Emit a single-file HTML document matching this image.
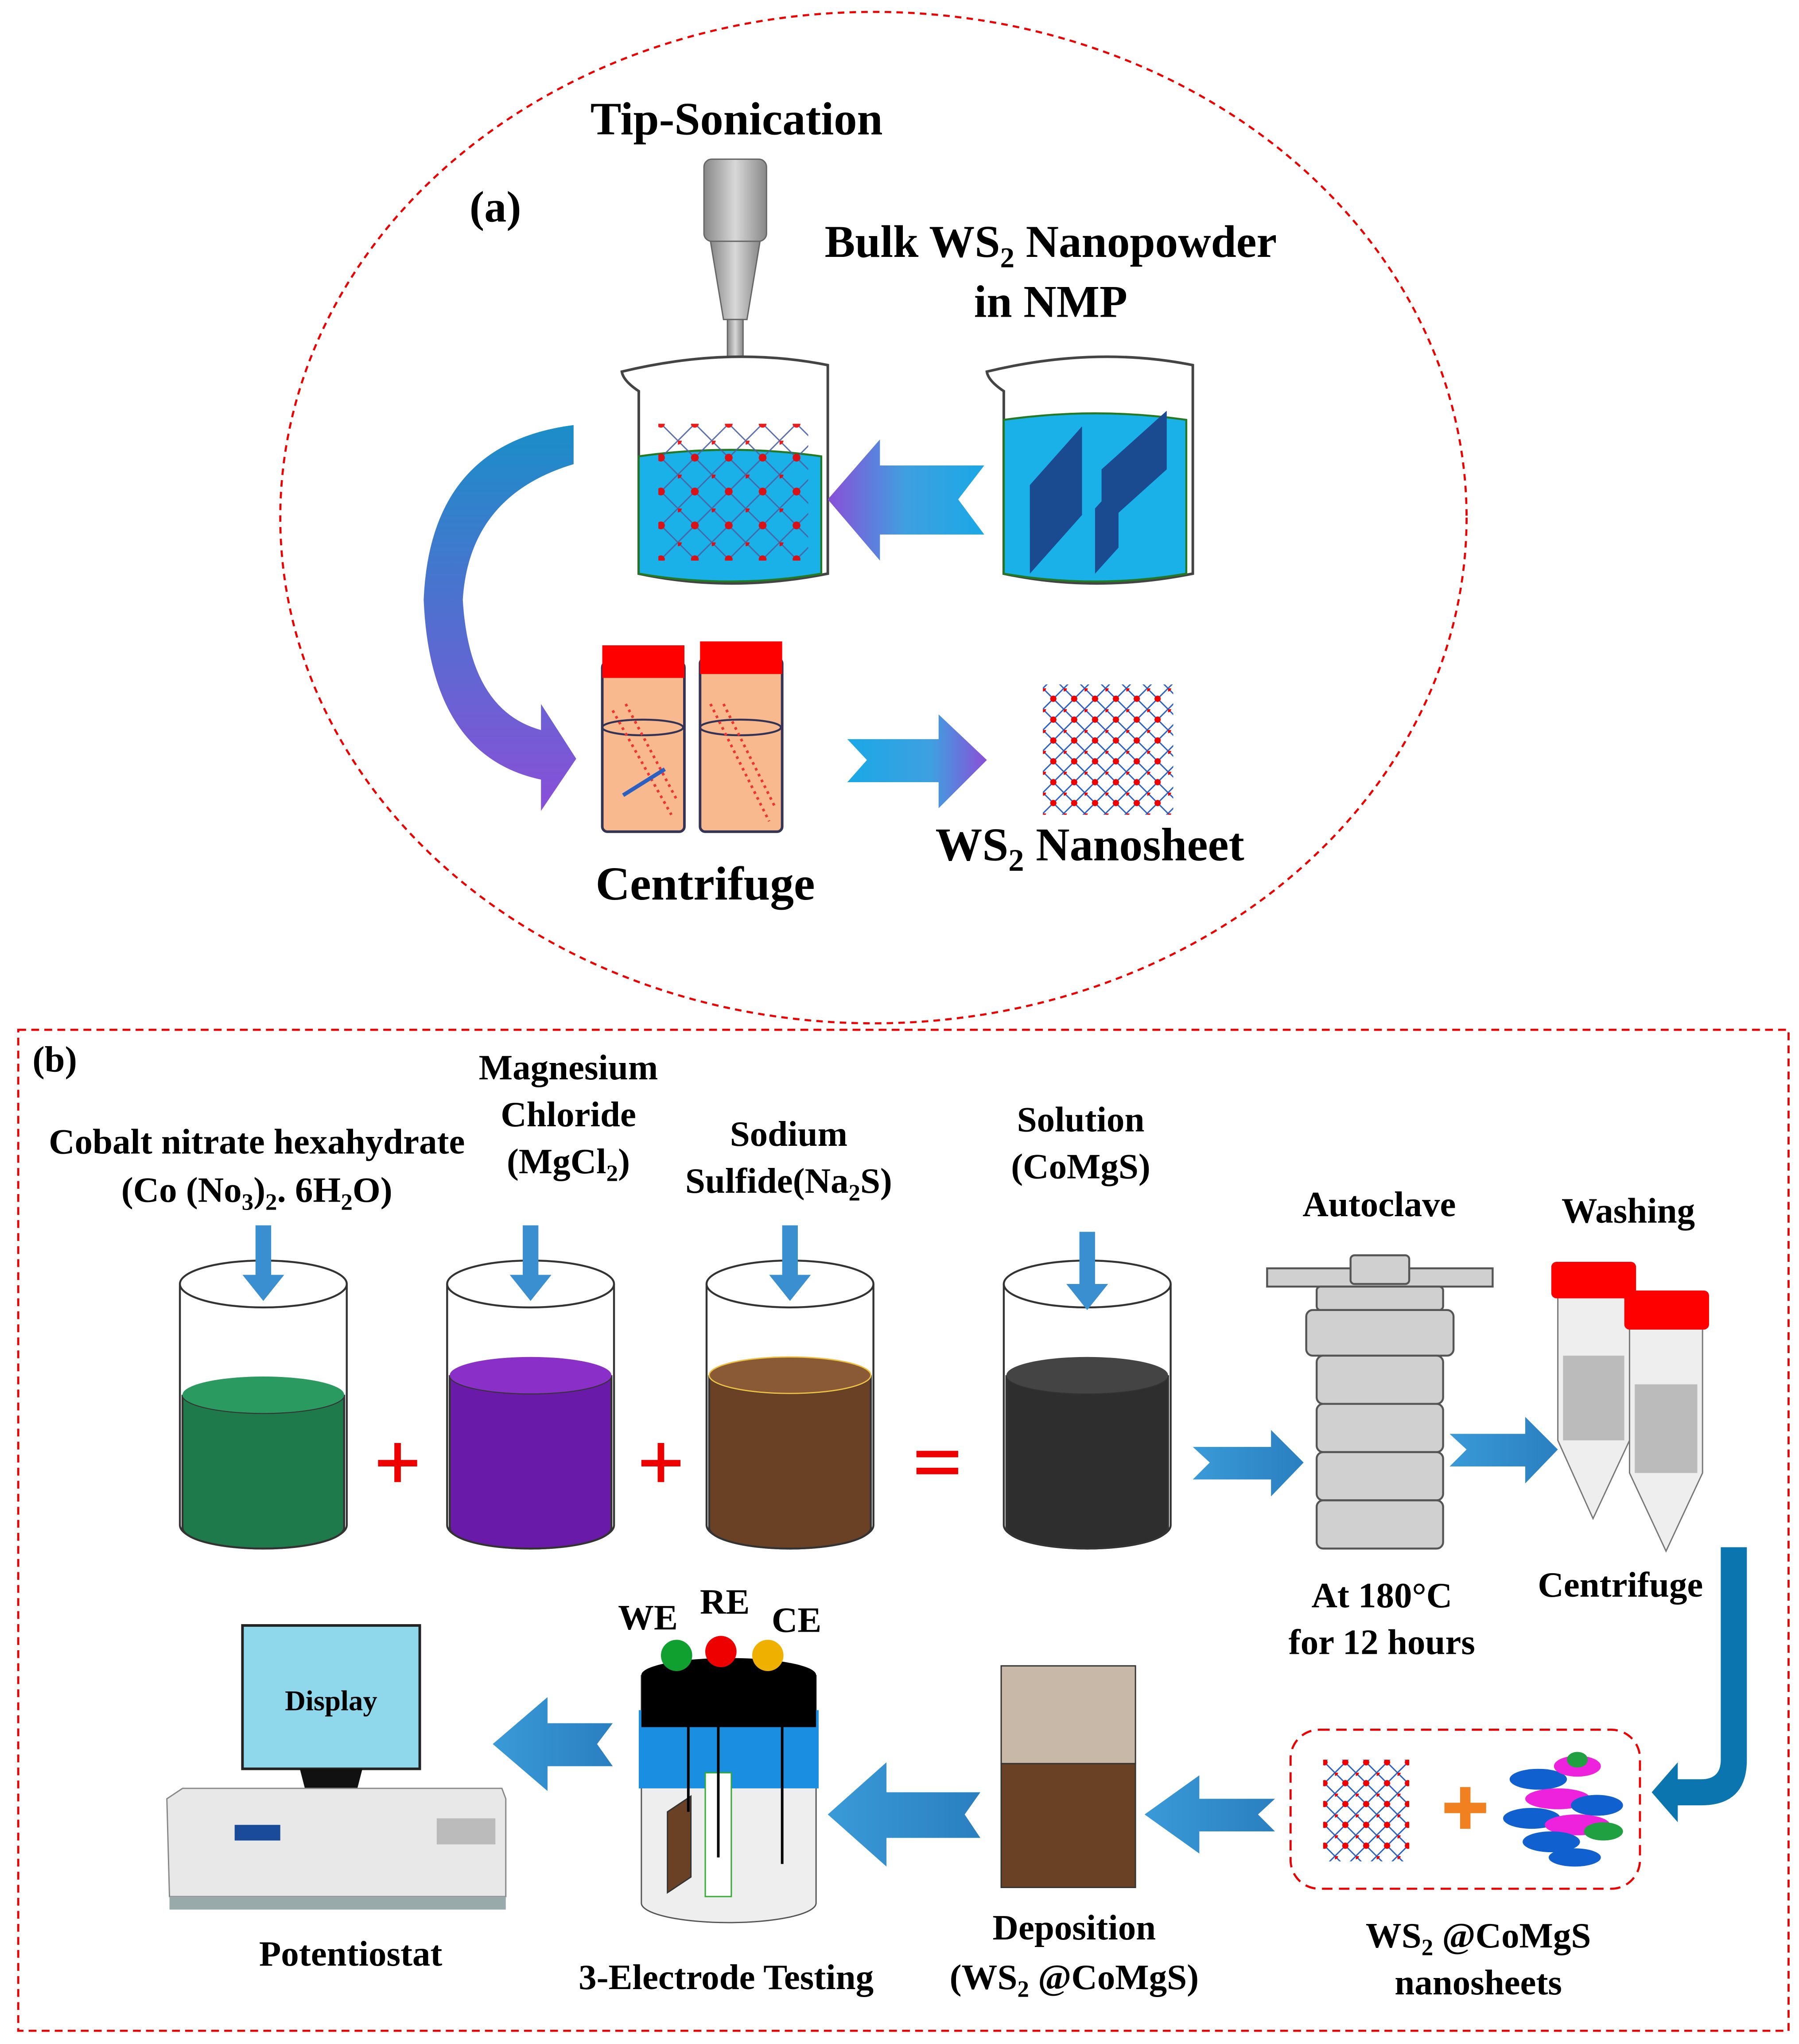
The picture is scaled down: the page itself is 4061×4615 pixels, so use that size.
<!DOCTYPE html>
<html><head><meta charset="utf-8"><style>
html,body{margin:0;padding:0;background:#fff}
svg{display:block}
text{font-family:"Liberation Serif",serif;font-weight:bold;fill:#000}
</style></head><body>
<svg width="4061" height="4615" viewBox="0 0 1380 1568" xmlns="http://www.w3.org/2000/svg">
<defs>
<linearGradient id="bp" x1="0" x2="1"><stop offset="0" stop-color="#8a4fd8"/><stop offset="0.5" stop-color="#3fa0e0"/><stop offset="1" stop-color="#1aa8e6"/></linearGradient>
<linearGradient id="bp2" x1="0" x2="1"><stop offset="0" stop-color="#1aa8e6"/><stop offset="0.6" stop-color="#3fa0e0"/><stop offset="1" stop-color="#8a4fd8"/></linearGradient>
<linearGradient id="cv" x1="0" y1="0" x2="0" y2="1"><stop offset="0" stop-color="#1a8ec8"/><stop offset="1" stop-color="#8a4fd8"/></linearGradient>
<linearGradient id="ba" x1="0" x2="1"><stop offset="0" stop-color="#3a9ad8"/><stop offset="1" stop-color="#2a7fc0"/></linearGradient>
<linearGradient id="gr" x1="0" x2="1"><stop offset="0" stop-color="#888"/><stop offset="0.5" stop-color="#d8d8d8"/><stop offset="1" stop-color="#888"/></linearGradient>
<pattern id="net" width="16" height="16" patternUnits="userSpaceOnUse"><path d="M0 0L16 16M16 0L0 16" stroke="#2a60c0" stroke-width="1"/><circle cx="0" cy="0" r="2.4" fill="#e00"/><circle cx="8" cy="8" r="2.4" fill="#e00"/></pattern>
<pattern id="net2" width="26" height="26" patternUnits="userSpaceOnUse"><path d="M0 0L26 26M26 0L0 26" stroke="#4a60a0" stroke-width="1"/><circle cx="0" cy="0" r="3" fill="#e00"/><circle cx="13" cy="13" r="3" fill="#e00"/></pattern>
</defs>

<ellipse cx="670" cy="397" rx="455" ry="388" fill="none" stroke="#e00" stroke-width="1.6" stroke-dasharray="5,4"/>
<text x="565" y="103" font-size="35.5" text-anchor="middle">Tip-Sonication</text>
<text x="380" y="170" font-size="34" text-anchor="middle">(a)</text>
<text x="806" y="197" font-size="35" text-anchor="middle">Bulk WS<tspan font-size="22" dy="8">2</tspan><tspan dy="-8"> Nanopowder</tspan></text>
<text x="806" y="243" font-size="35" text-anchor="middle">in NMP</text>
<rect x="540" y="122" width="48" height="63" rx="6" fill="url(#gr)" stroke="#666"/>
<path d="M545 185H583L573 245H555Z" fill="url(#gr)" stroke="#666"/>
<rect x="558" y="245" width="12" height="90" fill="url(#gr)" stroke="#666"/>
<path d="M490 300Q478 292 477 285Q560 265 635 280V440Q560 455 490 440Z" fill="#fff" stroke="#444" stroke-width="2"/>
<path d="M490 350Q560 340 630 350V440Q560 452 490 440Z" fill="#1ab0e8" stroke="#247a24" stroke-width="1.5"/>
<rect x="505" y="325" width="115" height="105" fill="url(#net2)" opacity="0.9"/>
<path d="M770 300Q758 292 757 285Q840 265 915 280V440Q840 455 770 440Z" fill="#fff" stroke="#444" stroke-width="2"/>
<path d="M770 322Q840 312 910 322V440Q840 452 770 440Z" fill="#1ab0e8" stroke="#247a24" stroke-width="1.5"/>
<path d="M790 440L790 372L830 327L830 395Z" fill="#1a4a90"/>
<path d="M845 405L845 360L895 315L895 360Z" fill="#1a4a90"/>
<path d="M840 440L840 390L858 370L858 420Z" fill="#1a4a90"/>
<path d="M755 357L735 383L755 410H675V430L635 383L675 337V357Z" fill="url(#bp)"/>
<path d="M440 326V356Q360 380 355 460Q360 545 415 560V540L442 582L415 622V598Q330 580 325 460Q330 340 440 326Z" fill="url(#cv)"/>
<rect x="462" y="508" width="63" height="130" rx="4" fill="#f9b98e" stroke="#335" stroke-width="2"/>
<rect x="462" y="495" width="63" height="25" fill="#f00"/>
<rect x="537" y="505" width="63" height="133" rx="4" fill="#f9b98e" stroke="#335" stroke-width="2"/>
<rect x="537" y="492" width="63" height="25" fill="#f00"/>
<ellipse cx="493" cy="558" rx="31" ry="6" fill="none" stroke="#335" stroke-width="1.5"/>
<ellipse cx="568" cy="558" rx="31" ry="6" fill="none" stroke="#335" stroke-width="1.5"/>
<path d="M470 545L515 625M480 540L520 615M545 540L590 630M555 540L595 620" stroke="#e33" stroke-width="2" stroke-dasharray="2,3"/>
<path d="M478 610L510 590" stroke="#2a60c0" stroke-width="3"/>
<path d="M650 567H720V548L757 583L720 620V600H650L665 583Z" fill="url(#bp2)"/>
<rect x="800" y="525" width="100" height="100" fill="url(#net)"/>
<text x="541" y="690" font-size="36.5" text-anchor="middle">Centrifuge</text>
<text x="836" y="660" font-size="36" text-anchor="middle">WS<tspan font-size="24" dy="8">2</tspan><tspan dy="-8"> Nanosheet</tspan></text>

<rect x="14" y="790" width="1358" height="768" fill="none" stroke="#e00" stroke-width="1.6" stroke-dasharray="6,4"/>
<text x="42" y="822" font-size="28" text-anchor="middle">(b)</text>
<g font-size="27.5">
<text x="197" y="885" text-anchor="middle">Cobalt nitrate hexahydrate</text>
<text x="197" y="922" text-anchor="middle">(Co (No<tspan font-size="18" dy="6">3</tspan><tspan dy="-6">)</tspan><tspan font-size="18" dy="6">2</tspan><tspan dy="-6">. 6H</tspan><tspan font-size="18" dy="6">2</tspan><tspan dy="-6">O)</tspan></text>
<text x="436" y="828" text-anchor="middle">Magnesium</text>
<text x="436" y="864" text-anchor="middle">Chloride</text>
<text x="436" y="900" text-anchor="middle">(MgCl<tspan font-size="18" dy="6">2</tspan><tspan dy="-6">)</tspan></text>
<text x="605" y="879" text-anchor="middle">Sodium</text>
<text x="605" y="915" text-anchor="middle">Sulfide(Na<tspan font-size="18" dy="6">2</tspan><tspan dy="-6">S)</tspan></text>
<text x="829" y="868" text-anchor="middle">Solution</text>
<text x="829" y="904" text-anchor="middle">(CoMgS)</text>
<text x="1058" y="933" text-anchor="middle">Autoclave</text>
<text x="1249" y="938" text-anchor="middle">Washing</text>
<text x="1060" y="1233" text-anchor="middle">At 180°C</text>
<text x="1060" y="1269" text-anchor="middle">for 12 hours</text>
<text x="1243" y="1225" text-anchor="middle">Centrifuge</text>
<text x="497" y="1250" text-anchor="middle">WE</text>
<text x="556" y="1238" text-anchor="middle">RE</text>
<text x="611" y="1252" text-anchor="middle">CE</text>
<text x="269" y="1508" text-anchor="middle">Potentiostat</text>
<text x="557" y="1526" text-anchor="middle">3-Electrode Testing</text>
<text x="824" y="1488" text-anchor="middle">Deposition</text>
<text x="824" y="1526" text-anchor="middle">(WS<tspan font-size="18" dy="6">2</tspan><tspan dy="-6"> @CoMgS)</tspan></text>
<text x="1134" y="1494" text-anchor="middle">WS<tspan font-size="18" dy="6">2</tspan><tspan dy="-6"> @CoMgS</tspan></text>
<text x="1134" y="1530" text-anchor="middle">nanosheets</text>
</g>
<g stroke="#333" stroke-width="1.5">
<path d="M138 985V1170A64 18 0 0 0 266 1170V985" fill="#fff"/>
<path d="M140 1070A62 14 0 0 0 264 1070V1172A62 16 0 0 1 140 1172Z" fill="#1e7a4a"/>
<ellipse cx="202" cy="985" rx="64" ry="18" fill="#fff"/>
<path d="M343 985V1170A64 18 0 0 0 471 1170V985" fill="#fff"/>
<path d="M345 1055A62 14 0 0 0 469 1055V1172A62 16 0 0 1 345 1172Z" fill="#6a1aa8"/>
<ellipse cx="407" cy="985" rx="64" ry="18" fill="#fff"/>
<path d="M542 985V1170A64 18 0 0 0 670 1170V985" fill="#fff"/>
<path d="M544 1055A62 14 0 0 0 668 1055V1172A62 16 0 0 1 544 1172Z" fill="#6b4126"/>
<ellipse cx="606" cy="985" rx="64" ry="18" fill="#fff"/>
<path d="M770 985V1170A64 18 0 0 0 898 1170V985" fill="#fff"/>
<path d="M772 1055A62 14 0 0 0 896 1055V1172A62 16 0 0 1 772 1172Z" fill="#2e2e2e"/>
<ellipse cx="834" cy="985" rx="64" ry="18" fill="#fff"/>
</g>
<ellipse cx="202" cy="1070" rx="62" ry="14" fill="#2a9a60"/>
<ellipse cx="407" cy="1055" rx="62" ry="14" fill="#8a30c8"/>
<ellipse cx="606" cy="1055" rx="62" ry="14" fill="#8a5a36" stroke="#f0c040"/>
<ellipse cx="834" cy="1055" rx="62" ry="14" fill="#444"/>
<g fill="#3a8fd0">
<path d="M196 940H208V978H218L202 998L186 978H196Z"/>
<path d="M401 940H413V978H423L407 998L391 978H401Z"/>
<path d="M600 940H612V978H622L606 998L590 978H600Z"/>
<path d="M828 945H840V985H850L834 1005L818 985H828Z"/>
</g>
<g fill="#e00">
<rect x="290" y="1120" width="30" height="5"/><rect x="302.5" y="1107" width="5" height="30"/>
<rect x="492" y="1120" width="30" height="5"/><rect x="504.5" y="1107" width="5" height="30"/>
<rect x="703" y="1113" width="32" height="5"/><rect x="703" y="1126" width="32" height="5"/>
</g>
<path d="M915 1110H975V1097L1000 1122L975 1148V1135H915L928 1122Z" fill="url(#ba)"/>
<path d="M1112 1100H1170V1087L1195 1112L1170 1138V1125H1112L1125 1112Z" fill="url(#ba)"/>
<g fill="#d0d0d0" stroke="#555" stroke-width="1.5">
<rect x="972" y="973" width="173" height="14"/>
<rect x="1036" y="963" width="45" height="22" rx="3"/>
<rect x="1010" y="987" width="97" height="18" rx="3"/>
<rect x="1002" y="1005" width="113" height="35" rx="5"/>
<rect x="1010" y="1040" width="97" height="37" rx="5"/>
<rect x="1010" y="1077" width="97" height="37" rx="5"/>
<rect x="1010" y="1114" width="97" height="37" rx="5"/>
<rect x="1010" y="1151" width="97" height="37" rx="5"/>
</g>
<path d="M1195 990V1105L1222 1165L1250 1105V990Z" fill="#eee" stroke="#777"/>
<rect x="1199" y="1040" width="47" height="65" fill="#bbb"/>
<rect x="1190" y="968" width="65" height="28" rx="4" fill="#f00"/>
<path d="M1250 1015V1130L1278 1190L1306 1130V1015Z" fill="#eee" stroke="#777"/>
<rect x="1254" y="1062" width="48" height="68" fill="#bbb"/>
<rect x="1246" y="990" width="65" height="30" rx="4" fill="#f00"/>
<path d="M1320 1187H1340V1350Q1340 1385 1305 1385H1287V1398L1267 1375L1287 1352V1365H1305Q1320 1365 1320 1350Z" fill="#0a75ae"/>
<rect x="990" y="1327" width="268" height="122" rx="22" fill="none" stroke="#e00" stroke-width="1.6" stroke-dasharray="8,5"/>
<rect x="1015" y="1350" width="66" height="78" fill="url(#net)"/>
<path d="M1108 1383H1120V1371H1128V1383H1140V1391H1128V1403H1120V1391H1108Z" fill="#f08020"/>
<g>
<ellipse cx="1180" cy="1365" rx="22" ry="8" fill="#1060d0"/>
<ellipse cx="1210" cy="1355" rx="18" ry="8" fill="#ee22dd"/>
<ellipse cx="1195" cy="1380" rx="25" ry="8" fill="#ee22dd"/>
<ellipse cx="1225" cy="1385" rx="20" ry="8" fill="#1060d0"/>
<ellipse cx="1175" cy="1395" rx="22" ry="8" fill="#1060d0"/>
<ellipse cx="1210" cy="1400" rx="25" ry="8" fill="#ee22dd"/>
<ellipse cx="1190" cy="1413" rx="22" ry="8" fill="#1060d0"/>
<ellipse cx="1230" cy="1405" rx="15" ry="7" fill="#20a040"/>
<ellipse cx="1208" cy="1425" rx="20" ry="7" fill="#1060d0"/>
<ellipse cx="1210" cy="1350" rx="8" ry="6" fill="#20a040"/>
</g>
<g fill="url(#ba)">
<path d="M978 1380H920V1362L878 1392L920 1422V1405H978L965 1392Z"/>
<path d="M752 1375H680V1352L635 1392L680 1432V1410H752L740 1392Z"/>
<path d="M470 1322H420V1302L378 1338L420 1374V1355H470L458 1338Z"/>
</g>
<rect x="768" y="1278" width="103" height="75" fill="#c8b8a8" stroke="#333"/>
<rect x="768" y="1353" width="103" height="95" fill="#6b4126" stroke="#333"/>
<path d="M492 1285V1460A67 15 0 0 0 626 1460V1285" fill="#eee" stroke="#555"/>
<rect x="490" y="1312" width="138" height="60" fill="#1a8ee0"/>
<rect x="492" y="1285" width="134" height="40" fill="#000"/>
<ellipse cx="559" cy="1285" rx="67" ry="13" fill="#000"/>
<circle cx="519" cy="1270" r="12" fill="#10a030"/>
<circle cx="553" cy="1267" r="12" fill="#e00"/>
<circle cx="589" cy="1270" r="12" fill="#f0b000"/>
<path d="M512 1390L530 1378V1440L512 1452Z" fill="#6b4126" stroke="#333"/>
<rect x="541" y="1360" width="20" height="95" fill="#fff" stroke="#3a3"/>
<path d="M528 1320V1390M551 1320V1425M600 1320V1430" stroke="#000" stroke-width="2"/>
<rect x="186" y="1247" width="136" height="110" fill="#8fd8ec" stroke="#222" stroke-width="2"/>
<text x="254" y="1312" font-size="22" text-anchor="middle" font-family="Liberation Sans,sans-serif" font-weight="normal">Display</text>
<path d="M230 1357H278L270 1388H238Z" fill="#111"/>
<path d="M128 1380L140 1372H385L388 1380V1455H130Z" fill="#e8e8e8" stroke="#888"/>
<rect x="130" y="1455" width="258" height="10" fill="#9aa"/>
<rect x="180" y="1400" width="35" height="12" fill="#1a4a9a"/>
<rect x="335" y="1395" width="45" height="20" fill="#bbb"/>
</svg>
</body></html>
